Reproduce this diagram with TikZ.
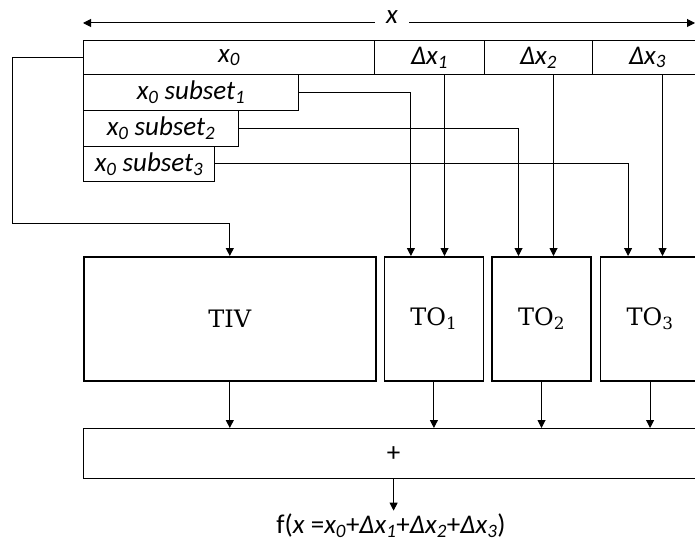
\documentclass[tikz,border=0pt]{standalone}
\usepackage{fontspec}
\usepackage{tikz}
\usetikzlibrary{arrows.meta, positioning}
\newfontfamily\calibri{Carlito}
\newfontfamily\cambria{DejaVu Serif}

\begin{document}
\begin{tikzpicture}[x=1pt, y=-1pt,
    cell/.style={draw, line width=1pt, minimum height=34pt, inner sep=0pt, anchor=north west,
      font=\fontsize{27}{30}\selectfont\calibri\itshape},
    blk/.style={draw, line width=1.6pt, minimum width=99pt, minimum height=124pt, inner sep=0pt,
      font=\fontsize{24}{28}\selectfont\cambria},
    conn/.style={line width=1pt, -{Triangle[width=8pt,length=8pt]}}]
    \useasboundingbox (0,0) rectangle (695,545);
    \clip (0,0) rectangle (695,545);
    % x split into x0 and the three deltas
    \node[cell, minimum width=291pt] (X0) at (83,40) {x\textsubscript{0}};
    \node[cell, minimum width=110pt] (D1) at (374,40) {Δx\textsubscript{1}};
    \node[cell, minimum width=108pt] (D2) at (484,40) {Δx\textsubscript{2}};
    \node[cell, minimum width=110pt] (D3) at (592,40) {Δx\textsubscript{3}};
    \node[cell, minimum width=215pt, minimum height=36pt] (S1) at (83,74) {x\textsubscript{0} subset\textsubscript{1}};
    \node[cell, minimum width=155pt, minimum height=36pt] (S2) at (83,110) {x\textsubscript{0} subset\textsubscript{2}};
    \node[cell, minimum width=131pt, minimum height=35pt] (S3) at (83,146) {x\textsubscript{0} subset\textsubscript{3}};
    % width arrow of x
    \node[font=\fontsize{27}{30}\selectfont\calibri\itshape, fill=white, inner xsep=11pt, inner ysep=1pt] (XL) at (392,17) {x};
    \coordinate (XA) at (83,23);
    \coordinate (XB) at (695,23);
    \draw[conn] (XL.west |- XA) -- (XA);
    \draw[conn] (XL.east |- XB) -- (XB);
    % tables
    \node[blk, anchor=north west, minimum width=292pt] (TIV) at (83,256) {TIV};
    \node[blk] (TO1) [right=7pt of TIV.north east, anchor=north west] {TO\textsubscript{1}};
    \node[blk] (TO2) [right=7pt of TO1.north east, anchor=north west] {TO\textsubscript{2}};
    \node[blk] (TO3) [right=8pt of TO2.north east, anchor=north west] {TO\textsubscript{3}};
    \node[draw, line width=1.2pt, minimum width=620pt, minimum height=50pt, anchor=north west,
      font=\fontsize{27}{30}\selectfont\calibri] (SUM) at (83,428) {+};
    \node[font=\fontsize{27}{30}\selectfont\calibri] (F) at (391,526)
      {f(\textit{x} =\textit{x\textsubscript{0}}+\textit{Δx\textsubscript{1}}+\textit{Δx\textsubscript{2}}+\textit{Δx\textsubscript{3}})};
    % connectors
    \draw[conn] (X0.west) -| ++(-71,166) -| (TIV.north);
    \draw[conn] (S1.east) -| ([xshift=-23pt]TO1.north);
    \draw[conn] (S2.east) -| ([xshift=-23pt]TO2.north);
    \draw[conn] (S3.east) -| ([xshift=-22pt]TO3.north);
    \foreach \d/\t in {D1/TO1, D2/TO2, D3/TO3}
      \draw[conn] ([xshift=15pt]\d.south) -- ([xshift=15pt]\d.south |- \t.north);
    \foreach \b in {TIV, TO1, TO2, TO3}
      \draw[conn] (\b.south) -- (\b.south |- SUM.north);
    \draw[conn] (SUM.south) -- (SUM.south |- F.north);
\end{tikzpicture}
\end{document}
